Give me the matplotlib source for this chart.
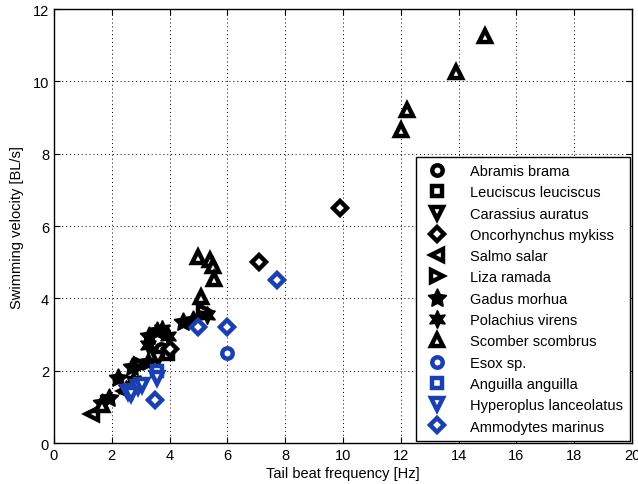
import matplotlib
matplotlib.use("Agg")
import matplotlib.pyplot as plt

plt.rcParams['font.family'] = ['Liberation Sans', 'DejaVu Sans']

BLACK = '#000000'
BLUE = '#1a3fb0'

abramis_f = [3.7]
abramis_v = [2.6]
leuciscus_f = [3.95]
leuciscus_v = [2.45]
carassius_f = [3.6]
carassius_v = [2.35]
oncorhynchus_f = [9.9, 7.1, 4.0]
oncorhynchus_v = [6.5, 5.0, 2.6]
salmo_f = [1.3, 2.45]
salmo_v = [0.8, 1.45]
liza_f = [5.2, 3.0]
liza_v = [3.65, 2.15]
gadus_f = [1.65, 1.9, 2.2, 2.7, 3.25, 3.3, 3.55, 4.45, 4.8]
gadus_v = [1.1, 1.25, 1.8, 2.1, 2.25, 2.95, 3.1, 3.35, 3.4]
polachius_f = [2.75, 3.25, 3.75, 3.95, 5.3, 2.5]
polachius_v = [1.75, 2.7, 3.15, 2.95, 3.55, 1.5]
scomber_f = [14.9, 13.9, 12.2, 12.0, 5.0, 5.4, 5.5, 5.55, 5.1, 1.65]
scomber_v = [11.25, 10.25, 9.2, 8.65, 5.15, 5.05, 4.9, 4.55, 4.05, 1.05]
esox_f = [6.0]
esox_v = [2.5]
anguilla_f = [3.55]
anguilla_v = [2.0]
hyperoplus_f = [2.55, 2.7, 2.9, 3.05, 3.55, 2.65]
hyperoplus_v = [1.4, 1.45, 1.55, 1.6, 1.8, 1.35]
ammodytes_f = [7.7, 6.0, 5.0, 3.5]
ammodytes_v = [4.5, 3.2, 3.2, 1.2]

species = [
    ("Abramis brama", 'o', BLACK, abramis_f, abramis_v, False),
    ("Leuciscus leuciscus", 's', BLACK, leuciscus_f, leuciscus_v, False),
    ("Carassius auratus", 'v', BLACK, carassius_f, carassius_v, False),
    ("Oncorhynchus mykiss", 'D', BLACK, oncorhynchus_f, oncorhynchus_v, False),
    ("Salmo salar", '<', BLACK, salmo_f, salmo_v, False),
    ("Liza ramada", '>', BLACK, liza_f, liza_v, False),
    ("Gadus morhua", (5, 1, 0), BLACK, gadus_f, gadus_v, True),
    ("Polachius virens", (6, 1, 0), BLACK, polachius_f, polachius_v, True),
    ("Scomber scombrus", '^', BLACK, scomber_f, scomber_v, False),
    ("Esox sp.", 'o', BLUE, esox_f, esox_v, False),
    ("Anguilla anguilla", 's', BLUE, anguilla_f, anguilla_v, False),
    ("Hyperoplus lanceolatus", 'v', BLUE, hyperoplus_f, hyperoplus_v, False),
    ("Ammodytes marinus", 'D', BLUE, ammodytes_f, ammodytes_v, False),
]

sizes = {'o': 7.5, 's': 6.5, 'v': 8.5, 'D': 7, '<': 8.5, '>': 8.5, '^': 9}

fig = plt.figure(figsize=(6.38, 4.85), dpi=100)
ax = fig.add_axes([0.0846, 0.0845, 0.906, 0.8945])

for name, m, c, fx, vy, filled in species:
    if filled:
        ms = 14 if m == (5, 1, 0) else 13
        ax.plot(fx, vy, linestyle='none', marker=m, markersize=ms,
                markerfacecolor=c, markeredgecolor=c, markeredgewidth=1,
                label=name)
    else:
        ax.plot(fx, vy, linestyle='none', marker=m, markersize=sizes[m],
                markerfacecolor='white', markeredgecolor=c, markeredgewidth=3.2,
                label=name)

ax.set_xlim(0, 20)
ax.set_ylim(0, 12)
ax.set_xticks(range(0, 21, 2))
ax.set_yticks(range(0, 13, 2))
ax.grid(True, linestyle=(0, (1, 3)), color='black', linewidth=0.7)
ax.tick_params(direction='in', top=True, right=True, labelsize=10.5, length=4)
for s in ax.spines.values():
    s.set_linewidth(1.0)
ax.set_xlabel("Tail beat frequency [Hz]", fontsize=10.5, labelpad=3)
ax.set_ylabel("Swimming velocity [BL/s]", fontsize=10.5, labelpad=6)

leg = ax.legend(loc='lower right', fontsize=10.5, frameon=True, fancybox=False,
                edgecolor='black', framealpha=1, labelspacing=0.5,
                borderaxespad=0.15, handletextpad=1.2, borderpad=0.5,
                handlelength=2.0)
leg.get_frame().set_linewidth(1.0)

fig.savefig("out.png", dpi=100)
